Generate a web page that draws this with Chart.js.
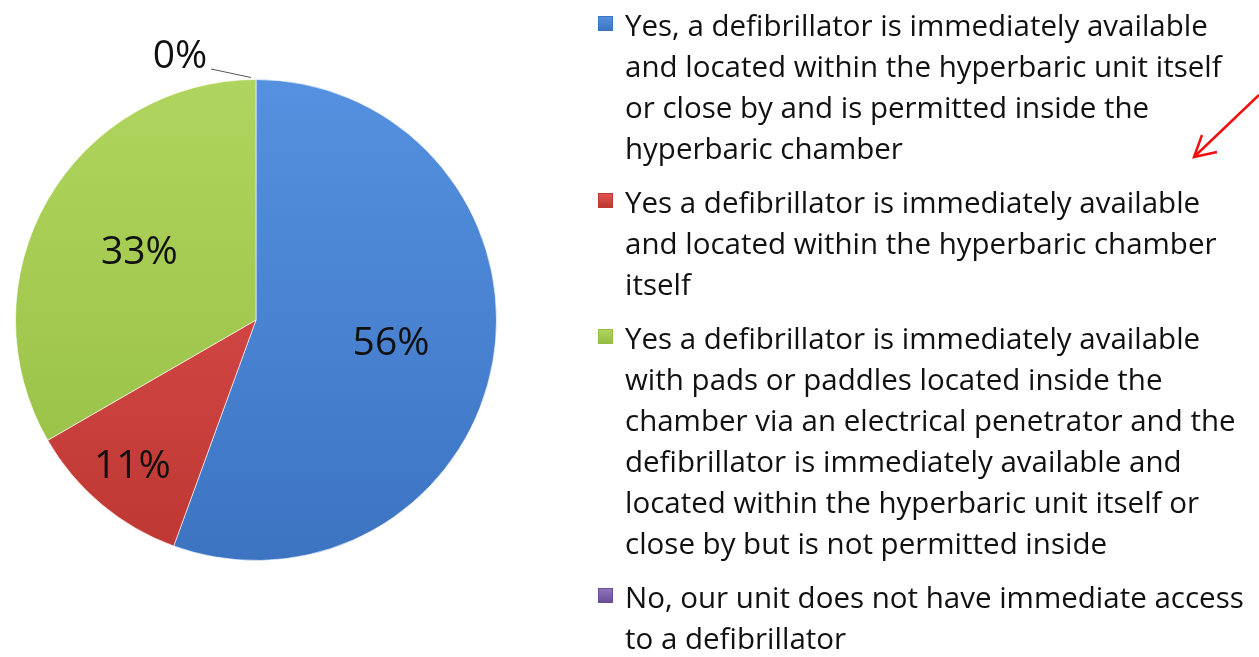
<!DOCTYPE html>
<html>
<head>
<meta charset="utf-8">
<script src="https://cdn.jsdelivr.net/npm/chart.js@4"></script>
<style>
  html, body { margin:0; padding:0; background:#fff; }
  #wrap { position:relative; width:1259px; height:657px; overflow:hidden; }
  #pie { position:absolute; left:0; top:0; }
  #legend { position:absolute; left:598px; top:4px; font-family:"Open Sans", sans-serif; font-size:29.5px; line-height:41px; color:#111; white-space:nowrap; }
  .item { position:relative; padding-left:27px; margin-bottom:13px; }
  .sw { position:absolute; left:0; top:12px; width:15px; height:15px; box-sizing:border-box; }
</style>
</head>
<body>
<div id="wrap">
  <canvas id="pie" width="1259" height="657"></canvas>
  <div id="legend"></div>
</div>
<script>
// data
const labels = [
  ['Yes, a defibrillator is immediately available', 'and located within the hyperbaric unit itself', 'or close by and is permitted inside the', 'hyperbaric chamber'],
  ['Yes a defibrillator is immediately available', 'and located within the hyperbaric chamber', 'itself'],
  ['Yes a defibrillator is immediately available', 'with pads or paddles located inside the', 'chamber via an electrical penetrator and the', 'defibrillator is immediately available and', 'located within the hyperbaric unit itself or', 'close by but is not permitted inside'],
  ['No, our unit does not have immediate access', 'to a defibrillator']
];
const responses = [5, 1, 3, 0];
const percentLabels = ['56%', '11%', '33%', '0%'];

const lightColors = ['#5591e0', '#e3534f', '#b0d55e', '#8f74bd'];
const darkColors = ['#3c74c2', '#bd3733', '#95bd42', '#6a4e97'];
const labelRadius = [0.57, 0.8, 0.56, 0];

function grad(ctx, i){
  const area = ctx.chart.chartArea;
  if(!area) return lightColors[i];
  const g = ctx.chart.ctx.createLinearGradient(0, area.top, 0, area.bottom);
  g.addColorStop(0, lightColors[i]);
  g.addColorStop(1, darkColors[i]);
  return g;
}

const pctPlugin = {
  id:'pct',
  afterDatasetsDraw(chart){
    const c = chart.ctx;
    const meta = chart.getDatasetMeta(0);
    c.save();
    c.font = '39px "Open Sans", sans-serif';
    c.fillStyle = '#111';
    c.textAlign = 'center';
    c.textBaseline = 'middle';
    meta.data.forEach((arc, i) => {
      if(responses[i] === 0) return;
      const mid = (arc.startAngle + arc.endAngle) / 2;
      const r = arc.outerRadius * labelRadius[i];
      c.fillText(percentLabels[i], arc.x + Math.cos(mid) * r, arc.y + Math.sin(mid) * r);
    });
    // zero slice label with leader line
    const zi = responses.indexOf(0);
    if(zi >= 0){
      const arc = meta.data[zi];
      const tx = arc.x, ty = arc.y - arc.outerRadius;
      c.strokeStyle = '#555';
      c.lineWidth = 1;
      c.beginPath();
      c.moveTo(211, 69);
      c.lineTo(tx - 5, ty - 2);
      c.stroke();
      c.fillText(percentLabels[zi], 180, 57);
    }
    // red annotation arrow
    c.strokeStyle = '#f01010';
    c.lineWidth = 2.5;
    c.beginPath();
    c.moveTo(1259, 95);
    c.lineTo(1194, 157);
    c.moveTo(1202, 135);
    c.lineTo(1194, 157);
    c.lineTo(1217, 152);
    c.stroke();
    c.restore();
  }
};

const chart = new Chart(document.getElementById('pie'), {
  type:'pie',
  data:{
    labels,
    datasets:[{
      data:responses,
      backgroundColor:(ctx) => grad(ctx, ctx.dataIndex),
      borderColor:'rgba(255,255,255,0.6)',
      borderWidth:1
    }]
  },
  options:{
    responsive:false,
    animation:false,
    layout:{ padding:{ left:15, right:762, top:79, bottom:96 } },
    plugins:{ legend:{ display:false }, tooltip:{ enabled:false } }
  },
  plugins:[pctPlugin]
});

// legend as html text
const legend = document.getElementById('legend');
labels.forEach((lines, i) => {
  const item = document.createElement('div');
  item.className = 'item';
  const sw = document.createElement('div');
  sw.className = 'sw';
  sw.style.background = 'linear-gradient(' + lightColors[i] + ',' + darkColors[i] + ')';
  sw.style.border = '1px solid ' + darkColors[i];
  item.appendChild(sw);
  lines.forEach((t) => {
    const s = document.createElement('div');
    s.textContent = t;
    item.appendChild(s);
  });
  legend.appendChild(item);
});
</script>
</body>
</html>
